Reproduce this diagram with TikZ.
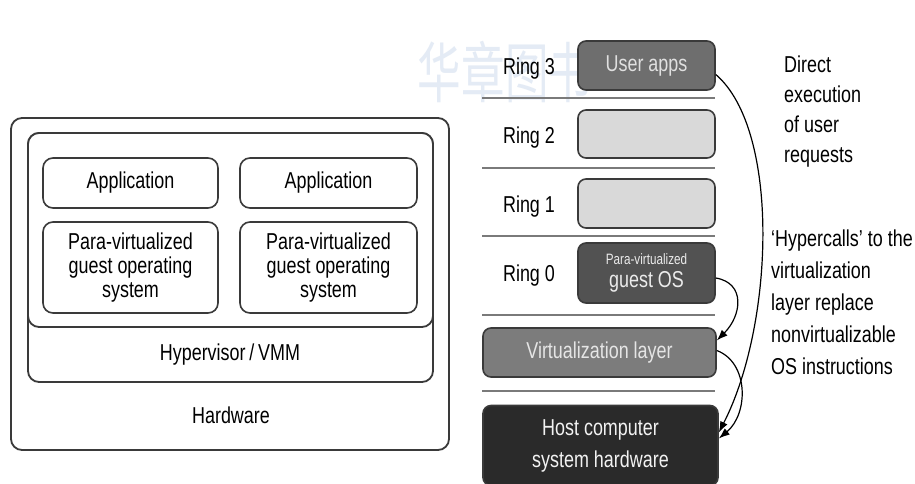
\documentclass[tikz,border=0pt]{standalone}
\usepackage{fontspec}
\setmainfont{Liberation Sans}[FakeStretch=0.78]
\newfontfamily\cjk{Noto Sans CJK SC}
\usetikzlibrary{arrows.meta}
\definecolor{bordc}{HTML}{3A3A3A}
\definecolor{sepc}{HTML}{7A7A7A}
\definecolor{uafill}{HTML}{6E6E6E}
\definecolor{lightfill}{HTML}{D9D9D9}
\definecolor{osfill}{HTML}{525252}
\definecolor{vlfill}{HTML}{7C7C7C}
\definecolor{hostfill}{HTML}{2A2A2A}
\definecolor{wmark}{HTML}{E4EBF5}
\tikzset{
  wbox/.style={draw=bordc, line width=1.8pt, rounded corners=11pt, fill=white, inner sep=0pt},
  ibox/.style={draw=bordc, line width=1.6pt, rounded corners=10pt, fill=white, align=center,
    font=\fontsize{23}{24}\selectfont, inner sep=0pt},
  rbox/.style={draw=bordc, line width=1.6pt, rounded corners=8pt, align=center, inner sep=0pt},
  lbl/.style={font=\fontsize{23}{25}\selectfont, inner sep=0pt},
  ringlbl/.style={font=\fontsize{23}{24}\selectfont, inner sep=0pt},
  note/.style={align=left, anchor=west, inner sep=0pt},
  sep/.style={draw=sepc, line width=2pt},
  conn/.style={line width=1.2pt, -{Latex[length=11pt,width=8pt]}},
}
\begin{document}
\begin{tikzpicture}[x=1pt,y=-1pt]
\useasboundingbox (0,0) rectangle (915,483);
\clip (0,0) rectangle (915,483);
\fill[white] (0,0) rectangle (915,483);
% watermark
\node[text=wmark, font=\cjk\fontsize{66}{66}\selectfont, xscale=0.66, transform shape, inner sep=0pt] (wm) at (505,72) {华章图书};
% ---------- left diagram ----------
\node[wbox, minimum width=438, minimum height=332] (hw) at (230,284) {};
\node[wbox, minimum width=405, minimum height=249] (hyp) at (230.5,257.5) {};
\node[wbox, minimum width=405, minimum height=194] (vms) at (230.5,230) {};
\node[ibox, minimum width=175, minimum height=50] (app1) at (130.5,183) {Application};
\node[ibox, minimum width=177, minimum height=50] (app2) at (328.5,183) {Application};
\node[ibox, minimum width=175, minimum height=91] (pv1) at (130.5,267.5) {Para-virtualized\\guest operating\\system};
\node[ibox, minimum width=177, minimum height=91] (pv2) at (328.5,267.5) {Para-virtualized\\guest operating\\system};
\node[lbl] (hyplbl) at (230,355) {Hypervisor\,/\,VMM};
\node[lbl] (hwlbl) at (231,415) {Hardware};
% ---------- right diagram ----------
\node[rbox, fill=uafill, text=white!88!black, font=\fontsize{23}{24}\selectfont, minimum width=137, minimum height=49] (ua) at (646.5,65.5) {User apps};
\node[rbox, fill=lightfill, minimum width=137, minimum height=48] (r2) at (646.5,134) {};
\node[rbox, fill=lightfill, minimum width=137, minimum height=49] (r1) at (646.5,203.5) {};
\node[rbox, fill=osfill, text=white!92!black, minimum width=137, minimum height=60] (os) at (646.5,273)
  {{\fontsize{15}{16}\selectfont Para-virtualized}\\[5pt]{\fontsize{23}{22}\selectfont guest OS}};
\node[rbox, fill=vlfill, text=white!90!black, font=\fontsize{23}{25}\selectfont, minimum width=233, minimum height=49] (vl) at (599.5,352.5) {Virtualization layer};
\node[rbox, fill=hostfill, text=white!95!black, font=\fontsize{23}{32}\selectfont, minimum width=235, minimum height=80] (host) at (600.5,445.5) {Host computer\\system hardware};
\node[ringlbl] (l3) at (529,69) {Ring 3};
\node[ringlbl] (l2) at (529,138) {Ring 2};
\node[ringlbl] (l1) at (529,207) {Ring 1};
\node[ringlbl] (l0) at (529,276) {Ring 0};
\coordinate (s1a) at (482,98);  \coordinate (s1b) at (715,98);
\coordinate (s2a) at (482,168); \coordinate (s2b) at (715,168);
\coordinate (s3a) at (482,236); \coordinate (s3b) at (715,236);
\coordinate (s4a) at (482,315); \coordinate (s4b) at (715,315);
\coordinate (s5a) at (482,391); \coordinate (s5b) at (715,391);
\draw[sep] (s1a) -- (s1b);
\draw[sep] (s2a) -- (s2b);
\draw[sep] (s3a) -- (s3b);
\draw[sep] (s4a) -- (s4b);
\draw[sep] (s5a) -- (s5b);
\node[note, font=\fontsize{23}{30}\selectfont] (n1) at (784,112) {Direct\\execution\\of user\\requests};
\node[note, font=\fontsize{23}{32}\selectfont] (n2) at (771,302) {`Hypercalls' to the\\virtualization\\layer replace\\nonvirtualizable\\OS instructions};
% connectors
\draw[conn] ([yshift=-9pt]ua.east) .. controls +(65,56) and +(55,-107) .. ([yshift=13pt]host.east);
\draw[conn] ([yshift=-5pt]os.east) .. controls +(30,5) and +(25,-25) .. ([yshift=12pt]vl.east);
\draw[conn] ([yshift=2pt]vl.east) .. controls +(32,12) and +(30,-25) .. ([yshift=7pt]host.east);
\end{tikzpicture}
\end{document}
